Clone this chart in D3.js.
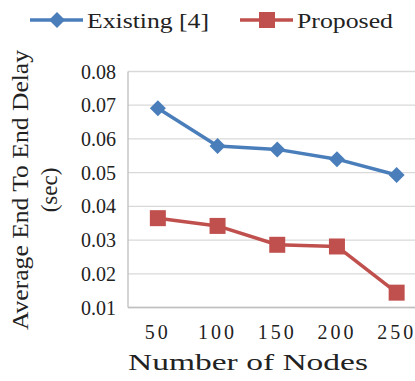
<!DOCTYPE html>
<html>
<head>
<meta charset="utf-8">
<script src="https://cdn.jsdelivr.net/npm/d3@7"></script>
<style>
  body { margin: 0; background: #fff; }
  svg { display: block; }
</style>
</head>
<body>
<div id="chart"></div>
<script>
// chart data
let nodes = ["50", "100", "150", "200", "250"];
let existing = [0.0691, 0.0579, 0.0569, 0.0540, 0.0493];
let proposed = [0.0365, 0.0342, 0.0286, 0.0281, 0.0144];
let yTicks = [0.01, 0.02, 0.03, 0.04, 0.05, 0.06, 0.07, 0.08];
let seriesNames = ["Existing [4]", "Proposed"];

let W = 415, H = 381;
let margin = { left: 128, top: 71.5, bottom: 307.5 };
let blue = "#4a7ebb", red = "#c0504d";

let svg = d3.select("#chart").append("svg")
  .attr("width", W)
  .attr("height", H)
  .style("font-family", "'Liberation Serif', 'DejaVu Serif', serif")
  .attr("fill", "#222");

let x = d3.scaleBand().domain(nodes).range([margin.left, margin.left + 5 * 59.7]);
let y = d3.scaleLinear().domain([0.01, 0.08]).range([margin.bottom, margin.top]);

// gridlines
svg.append("g").selectAll("line")
  .data(yTicks).enter()
  .append("line")
    .attr("x1", margin.left).attr("x2", W + 20)
    .attr("y1", d => y(d)).attr("y2", d => y(d))
    .attr("stroke", "#d9d9d9").attr("stroke-width", 1.3);

// axis lines
svg.append("line")
  .attr("x1", margin.left).attr("x2", margin.left)
  .attr("y1", margin.top).attr("y2", margin.bottom)
  .attr("stroke", "#bfbfbf").attr("stroke-width", 1.3);
svg.append("line")
  .attr("x1", margin.left).attr("x2", W + 20)
  .attr("y1", margin.bottom).attr("y2", margin.bottom)
  .attr("stroke", "#bfbfbf").attr("stroke-width", 1.3);

// y tick labels
svg.append("g").selectAll("text")
  .data(yTicks).enter()
  .append("text")
    .attr("x", 116).attr("y", d => y(d))
    .attr("dy", "0.35em")
    .attr("text-anchor", "end")
    .attr("font-size", 20)
    .text(d => d.toFixed(2));

// x tick labels
svg.append("g").selectAll("text")
  .data(nodes).enter()
  .append("text")
    .attr("x", d => x(d) + x.bandwidth() / 2)
    .attr("y", 339)
    .attr("text-anchor", "middle")
    .attr("font-size", 20)
    .attr("letter-spacing", 3)
    .text(d => d);

// axis titles
svg.append("text")
  .attr("x", 128).attr("y", 370)
  .attr("font-size", 23)
  .attr("textLength", 240)
  .attr("lengthAdjust", "spacingAndGlyphs")
  .text("Number of Nodes");

let yTitle = svg.append("g").attr("transform", "translate(0,190) rotate(-90)");
yTitle.append("text")
  .attr("x", -140).attr("y", 28)
  .attr("font-size", 23)
  .attr("textLength", 280)
  .attr("lengthAdjust", "spacingAndGlyphs")
  .text("Average End To End Delay");
yTitle.append("text")
  .attr("x", 0).attr("y", 57)
  .attr("text-anchor", "middle")
  .attr("font-size", 23)
  .text("(sec)");

let line = d3.line()
  .x((d, i) => x(nodes[i]) + x.bandwidth() / 2)
  .y(d => y(d));

function drawSeries(vals, color, shape) {
  svg.append("path")
    .datum(vals)
    .attr("d", line)
    .attr("fill", "none")
    .attr("stroke", color)
    .attr("stroke-width", 3.5)
    .attr("stroke-linejoin", "round");
  svg.append("g").selectAll("path")
    .data(vals).enter()
    .append("path")
      .attr("d", shape)
      .attr("transform", (d, i) => "translate(" + (x(nodes[i]) + x.bandwidth() / 2) + "," + y(d) + ")")
      .attr("fill", color);
}

let diamond = "M0,-8L8,0L0,8L-8,0Z";
let square = "M-8,-8H8V8H-8Z";
drawSeries(existing, blue, diamond);
drawSeries(proposed, red, square);

// legend
let legend = [
  { name: seriesNames[0], color: blue, shape: diamond, x: 30, w: 122 },
  { name: seriesNames[1], color: red, shape: square, x: 240, w: 96 }
];
let lg = svg.append("g").selectAll("g")
  .data(legend).enter()
  .append("g")
    .attr("transform", d => "translate(" + d.x + ",20)");
lg.append("line")
  .attr("x1", 0).attr("x2", 53)
  .attr("stroke", d => d.color).attr("stroke-width", 3.5);
lg.append("path")
  .attr("d", d => d.shape)
  .attr("transform", "translate(27,0)")
  .attr("fill", d => d.color);
lg.append("text")
  .attr("x", 57).attr("dy", "0.35em")
  .attr("font-size", 22)
  .attr("textLength", d => d.w)
  .attr("lengthAdjust", "spacingAndGlyphs")
  .text(d => d.name);
</script>
</body>
</html>
